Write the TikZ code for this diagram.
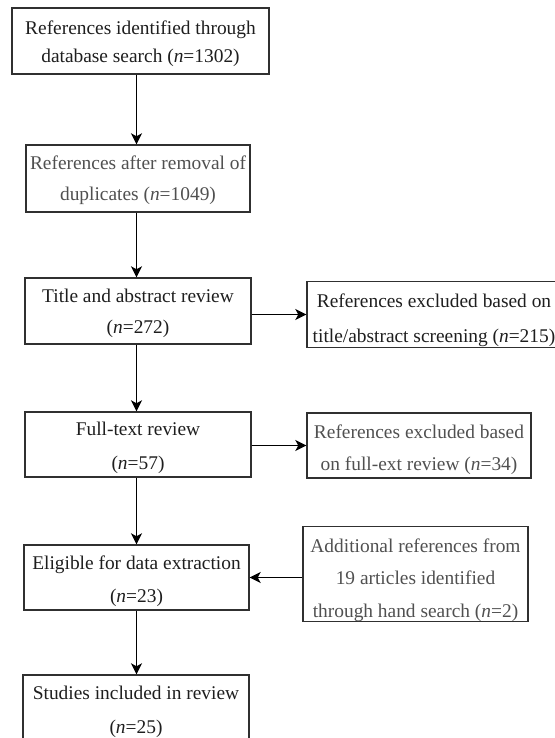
\documentclass[tikz,border=0pt]{standalone}
\usepackage{fontspec}
\setmainfont{Liberation Serif}
\usetikzlibrary{arrows.meta}
\definecolor{ink}{HTML}{1E1E1E}
\definecolor{greyink}{HTML}{505050}
\definecolor{edge}{HTML}{303030}
\newcommand\topstr[1]{\rule{0pt}{#1pt}}
\newcommand\botstr[1]{\rule[-#1pt]{0pt}{0pt}}
\tikzset{
  box/.style={draw=edge, line width=1.4pt, inner sep=0pt, align=center, text=ink},
  lines/.style={font=\fontsize{19.4}{#1}\selectfont},
  soft/.style={text=greyink},
  arr/.style={draw=black, line width=1.5pt, -{Stealth[length=11pt,width=11pt,inset=3pt]}}
}
\begin{document}
\begin{tikzpicture}[x=1pt,y=-1pt]
\useasboundingbox (0,0) rectangle (554,738);
\node[box, lines=28, minimum width=257pt, minimum height=66pt] (B1) at (140.5,41)
  {\topstr{20}References identified through\\database search (\textit{n}=1302)\botstr{5}};
\node[box, soft, lines=31, minimum width=224pt, minimum height=67pt] (B2) at (138,178.5)
  {\topstr{18}References after removal of\\duplicates (\textit{n}=1049)\botstr{5}};
\node[box, lines=31, minimum width=226pt, minimum height=66pt] (B3) at (138,311)
  {\topstr{19}Title and abstract review\\(\textit{n}=272)\botstr{5}};
\node[box, lines=34, minimum width=226pt, minimum height=65pt] (B4) at (138,444.5)
  {\topstr{21}Full-text review\\(\textit{n}=57)\botstr{5}};
\node[box, lines=33, minimum width=225pt, minimum height=65pt] (B5) at (136.5,577.5)
  {\topstr{22}Eligible for data extraction\\(\textit{n}=23)\botstr{5}};
\node[box, lines=34, minimum width=226pt, minimum height=66pt] (B6) at (136,708)
  {\topstr{22}Studies included in review\\(\textit{n}=25)\botstr{5}};
\node[box, lines=35, minimum width=254pt, minimum height=65pt] (E1) at (434,314.5)
  {\topstr{26}References excluded based on\\title/abstract screening (\textit{n}=215)\botstr{5}};
\node[box, soft, lines=32, minimum width=224pt, minimum height=65pt] (E2) at (419,445.5)
  {\topstr{23}References excluded based\\on full-ext review (\textit{n}=34)\botstr{5}};
\node[box, soft, lines=32.5, minimum width=225pt, minimum height=93pt] (A) at (415.5,574)
  {\topstr{25.5}Additional references from\\19 articles identified\\through hand search (\textit{n}=2)};
\draw[arr] (B1.south -| B5) -- (B2.north -| B5);
\draw[arr] (B2.south -| B5) -- (B3.north -| B5);
\draw[arr] (B3.south -| B5) -- (B4.north -| B5);
\draw[arr] (B4.south -| B5) -- (B5.north);
\draw[arr] (B5.south -| B5) -- (B6.north -| B5);
\draw[arr] (B3.east |- E1.west) -- (E1.west);
\draw[arr] (B4.east |- E2.west) -- (E2.west);
\draw[arr] (A.west |- B5.east) -- (B5.east);
\end{tikzpicture}
\end{document}
